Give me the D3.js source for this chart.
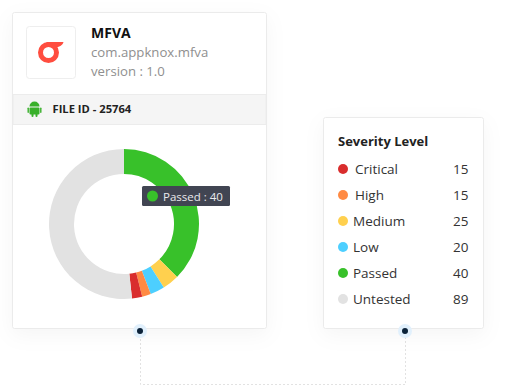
<!DOCTYPE html>
<html>
<head>
<meta charset="utf-8">
<script src="https://cdn.jsdelivr.net/npm/d3@7"></script>
<style>
    html, body { margin: 0; padding: 0; background: #fff; }
    svg { display: block; }
    text { font-family: "Open Sans", sans-serif; }
</style>
</head>
<body>
<div id="chart"></div>
<script>
// legend table
const levels = ["Critical", "High", "Medium", "Low", "Passed", "Untested"];
const counts = [15, 15, 25, 20, 40, 89];
const colors = ["#d92d2d", "#ff8a43", "#ffd04e", "#4dcfff", "#38c12a", "#e2e2e2"];

// ring slices as drawn, clockwise from 12 o'clock (share of the ring)
const ringLevels = ["Passed", "Medium", "Low", "High", "Critical", "Untested"];
const ringShares = [37.5, 3.6, 3.1, 1.9, 2.2, 51.7];

const width = 512, height = 385;
const svg = d3.select("#chart").append("svg")
    .attr("width", width)
    .attr("height", height);

let shadow = svg.append("defs").append("filter")
    .attr("id", "cardShadow")
    .attr("x", "-20%").attr("y", "-20%")
    .attr("width", "140%").attr("height", "140%");
shadow.append("feDropShadow")
    .attr("dx", 0).attr("dy", 6)
    .attr("stdDeviation", 10)
    .attr("flood-color", "#000")
    .attr("flood-opacity", 0.04);

// Connector behind the cards
svg.append("path")
    .attr("d", "M140.5,331V384.5H405.5V331")
    .attr("fill", "none")
    .attr("stroke", "#e2e2e2")
    .attr("stroke-dasharray", "2,2");

// Cards
function card(x, y, w, h) {
    svg.append("rect")
        .attr("x", x).attr("y", y)
        .attr("width", w).attr("height", h)
        .attr("rx", 2)
        .attr("fill", "#fff")
        .attr("stroke", "#ebebeb")
        .attr("filter", "url(#cardShadow)");
}
card(12.5, 12.5, 254, 316);
card(323.5, 117.5, 160, 211);

// App tile and logo
svg.append("rect")
    .attr("x", 26.5).attr("y", 26.5)
    .attr("width", 49).attr("height", 52)
    .attr("rx", 3)
    .attr("fill", "#fff")
    .attr("stroke", "#eeeeee");
let logo = svg.append("g").attr("transform", "translate(48.5,52.5)");
logo.append("circle")
    .attr("r", 8)
    .attr("fill", "none")
    .attr("stroke", "#ff4d3f")
    .attr("stroke-width", 5);
logo.append("path")
    .attr("d", "M-2,-10.5H15C14,-7 11,-5.5 8,-5.5H-2Z")
    .attr("fill", "#ff4d3f");

let title = svg.append("g");
title.append("text").text("MFVA")
    .attr("x", 91).attr("y", 38)
    .attr("font-size", 14).attr("font-weight", 700).attr("fill", "#111");
title.append("text").text("com.appknox.mfva")
    .attr("x", 91).attr("y", 57)
    .attr("font-size", 13.2).attr("fill", "#8f8f8f");
title.append("text").text("version : 1.0")
    .attr("x", 91).attr("y", 76)
    .attr("font-size", 13.2).attr("fill", "#8f8f8f");

// File id band
svg.append("rect")
    .attr("x", 13).attr("y", 94.5)
    .attr("width", 253).attr("height", 30)
    .attr("fill", "#f5f5f5")
    .attr("stroke", "#ececec")
    .attr("stroke-width", 1);
let android = svg.append("g").attr("fill", "#38b02a").attr("transform", "translate(34.5,109)");
android.append("path").attr("d", "M-5,-2.5A5,5 0 0 1 5,-2.5Z");
android.append("rect").attr("x", -5).attr("y", -1.5).attr("width", 10).attr("height", 7).attr("rx", 1);
android.append("rect").attr("x", -7).attr("y", -1.5).attr("width", 1.4).attr("height", 5.5).attr("rx", 0.7);
android.append("rect").attr("x", 5.6).attr("y", -1.5).attr("width", 1.4).attr("height", 5.5).attr("rx", 0.7);
android.append("rect").attr("x", -3).attr("y", 4).attr("width", 2).attr("height", 4).attr("rx", 1);
android.append("rect").attr("x", 1).attr("y", 4).attr("width", 2).attr("height", 4).attr("rx", 1);
svg.append("text").text("FILE ID - 25764")
    .attr("x", 52.5).attr("y", 113)
    .attr("font-size", 11.2).attr("font-weight", 700).attr("fill", "#222");

// Ring
let colorScale = d3.scaleOrdinal().domain(levels).range(colors);
let pie = d3.pie().sort(null).value(function (d, i) { return ringShares[i]; });
let arc = d3.arc().innerRadius(50).outerRadius(75);
svg.append("g")
    .attr("transform", "translate(124,224)")
    .selectAll("path")
    .data(pie(ringLevels))
    .join("path")
    .attr("d", arc)
    .attr("fill", function (d) { return colorScale(d.data); });

// Tooltip
let tooltip = svg.append("g").attr("transform", "translate(142,186)");
tooltip.append("rect")
    .attr("width", 88).attr("height", 20)
    .attr("rx", 1.5)
    .attr("fill", "#414552");
tooltip.append("circle")
    .attr("cx", 10.5).attr("cy", 10).attr("r", 5.5)
    .attr("fill", colorScale(levels[4]));
tooltip.append("text").text(levels[4] + " : " + counts[4])
    .attr("x", 21).attr("y", 14.5)
    .attr("font-size", 11.5).attr("fill", "#e9e9ec");

// Legend
svg.append("text").text("Severity Level")
    .attr("x", 338).attr("y", 146)
    .attr("font-size", 13).attr("font-weight", 700).attr("fill", "#222");
let rowScale = d3.scalePoint().domain(levels).range([169, 299]);
let rows = svg.append("g").selectAll("g")
    .data(levels)
    .join("g")
    .attr("transform", function (d) { return "translate(0," + rowScale(d) + ")"; });
rows.append("circle")
    .attr("cx", 343).attr("r", 5)
    .attr("fill", function (d) { return colorScale(d); });
rows.append("text").text(function (d) { return d; })
    .attr("x", function (d, i) { return i < 2 ? 355 : 353; })
    .attr("y", 5)
    .attr("font-size", 13.5).attr("fill", "#333");
rows.append("text").text(function (d, i) { return counts[i]; })
    .attr("x", 468.5).attr("y", 5)
    .attr("text-anchor", "end")
    .attr("font-size", 13.5).attr("fill", "#333");

// Connector ends
[140, 405].forEach(function (x) {
    svg.append("circle").attr("cx", x).attr("cy", 331).attr("r", 7).attr("fill", "#e1f0fc");
    svg.append("circle").attr("cx", x).attr("cy", 331).attr("r", 3).attr("fill", "#0b2239");
});
</script>
</body>
</html>
